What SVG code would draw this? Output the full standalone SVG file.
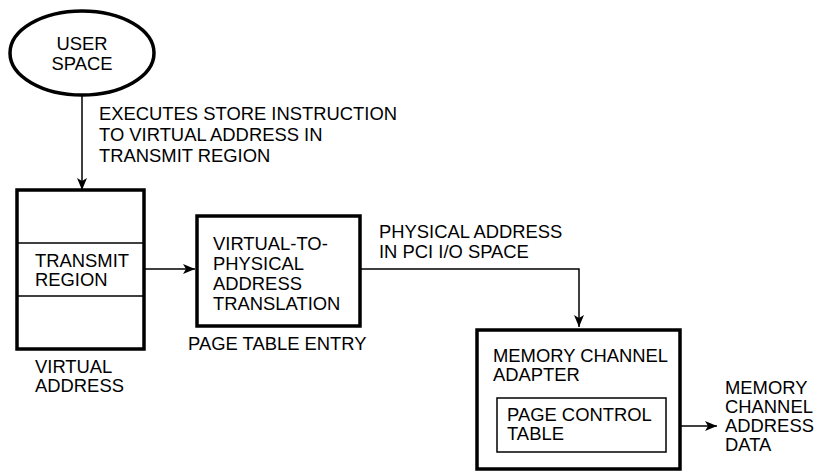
<svg xmlns="http://www.w3.org/2000/svg" width="815" height="472" viewBox="0 0 815 472">
  <style>
    text { font-family: "Liberation Sans", Arial, sans-serif; font-size: 18.4px; fill: #000; }
    .c { text-anchor: middle; }
    .thick { fill: #fff; stroke: #000; stroke-width: 3.5; }
    .thin { fill: none; stroke: #000; stroke-width: 1.5; }
    .wire { fill: none; stroke: #000; stroke-width: 1.5; }
  </style>
  <defs>
    <marker id="arrow" viewBox="0 0 12 10" refX="12" refY="5" markerWidth="13" markerHeight="10" markerUnits="userSpaceOnUse" orient="auto">
      <path d="M0,0 L12,5 L0,10 L3,5 Z" fill="#000"/>
    </marker>
  </defs>

  <rect width="815" height="472" fill="#fff"/>

  <g id="connectors">
    <path class="wire" d="M82,95 V190" marker-end="url(#arrow)"/>
    <path class="wire" d="M137,269 H195" marker-end="url(#arrow)"/>
    <path class="wire" d="M360,269 H579 V327" marker-end="url(#arrow)"/>
    <path class="wire" d="M666,426 H717" marker-end="url(#arrow)"/>
  </g>

  <g id="user-space">
    <ellipse class="thick" cx="82" cy="53" rx="72" ry="42"/>
    <text class="c" x="82" y="50">USER</text>
    <text class="c" x="82" y="70">SPACE</text>
  </g>

  <g id="store-label">
    <text x="99" y="120">EXECUTES STORE INSTRUCTION</text>
    <text x="99" y="141">TO VIRTUAL ADDRESS IN</text>
    <text x="99" y="162">TRANSMIT REGION</text>
  </g>

  <g id="virtual-address">
    <rect class="thick" x="17" y="190" width="127" height="159"/>
    <line class="thin" x1="17" y1="243" x2="144" y2="243"/>
    <line class="thin" x1="17" y1="296" x2="144" y2="296"/>
    <text x="35" y="267">TRANSMIT</text>
    <text x="35" y="286">REGION</text>
    <text x="35" y="373">VIRTUAL</text>
    <text x="35" y="392">ADDRESS</text>
  </g>

  <g id="page-table-entry">
    <rect class="thick" x="197" y="216" width="163" height="110"/>
    <text x="213" y="250">VIRTUAL-TO-</text>
    <text x="213" y="270">PHYSICAL</text>
    <text x="213" y="290">ADDRESS</text>
    <text x="213" y="310">TRANSLATION</text>
    <text x="188" y="350">PAGE TABLE ENTRY</text>
  </g>

  <g id="physical-label">
    <text x="379" y="238">PHYSICAL ADDRESS</text>
    <text x="379" y="258">IN PCI I/O SPACE</text>
  </g>

  <g id="memory-channel-adapter">
    <rect class="thick" x="477" y="330" width="203" height="139"/>
    <text x="493" y="362">MEMORY CHANNEL</text>
    <text x="493" y="381">ADAPTER</text>
    <rect class="thin" x="497" y="398" width="169" height="54"/>
    <text x="507" y="421">PAGE CONTROL</text>
    <text x="507" y="440">TABLE</text>
  </g>

  <g id="output-label">
    <text x="725" y="394">MEMORY</text>
    <text x="725" y="413">CHANNEL</text>
    <text x="725" y="432">ADDRESS</text>
    <text x="725" y="451">DATA</text>
  </g>
</svg>
